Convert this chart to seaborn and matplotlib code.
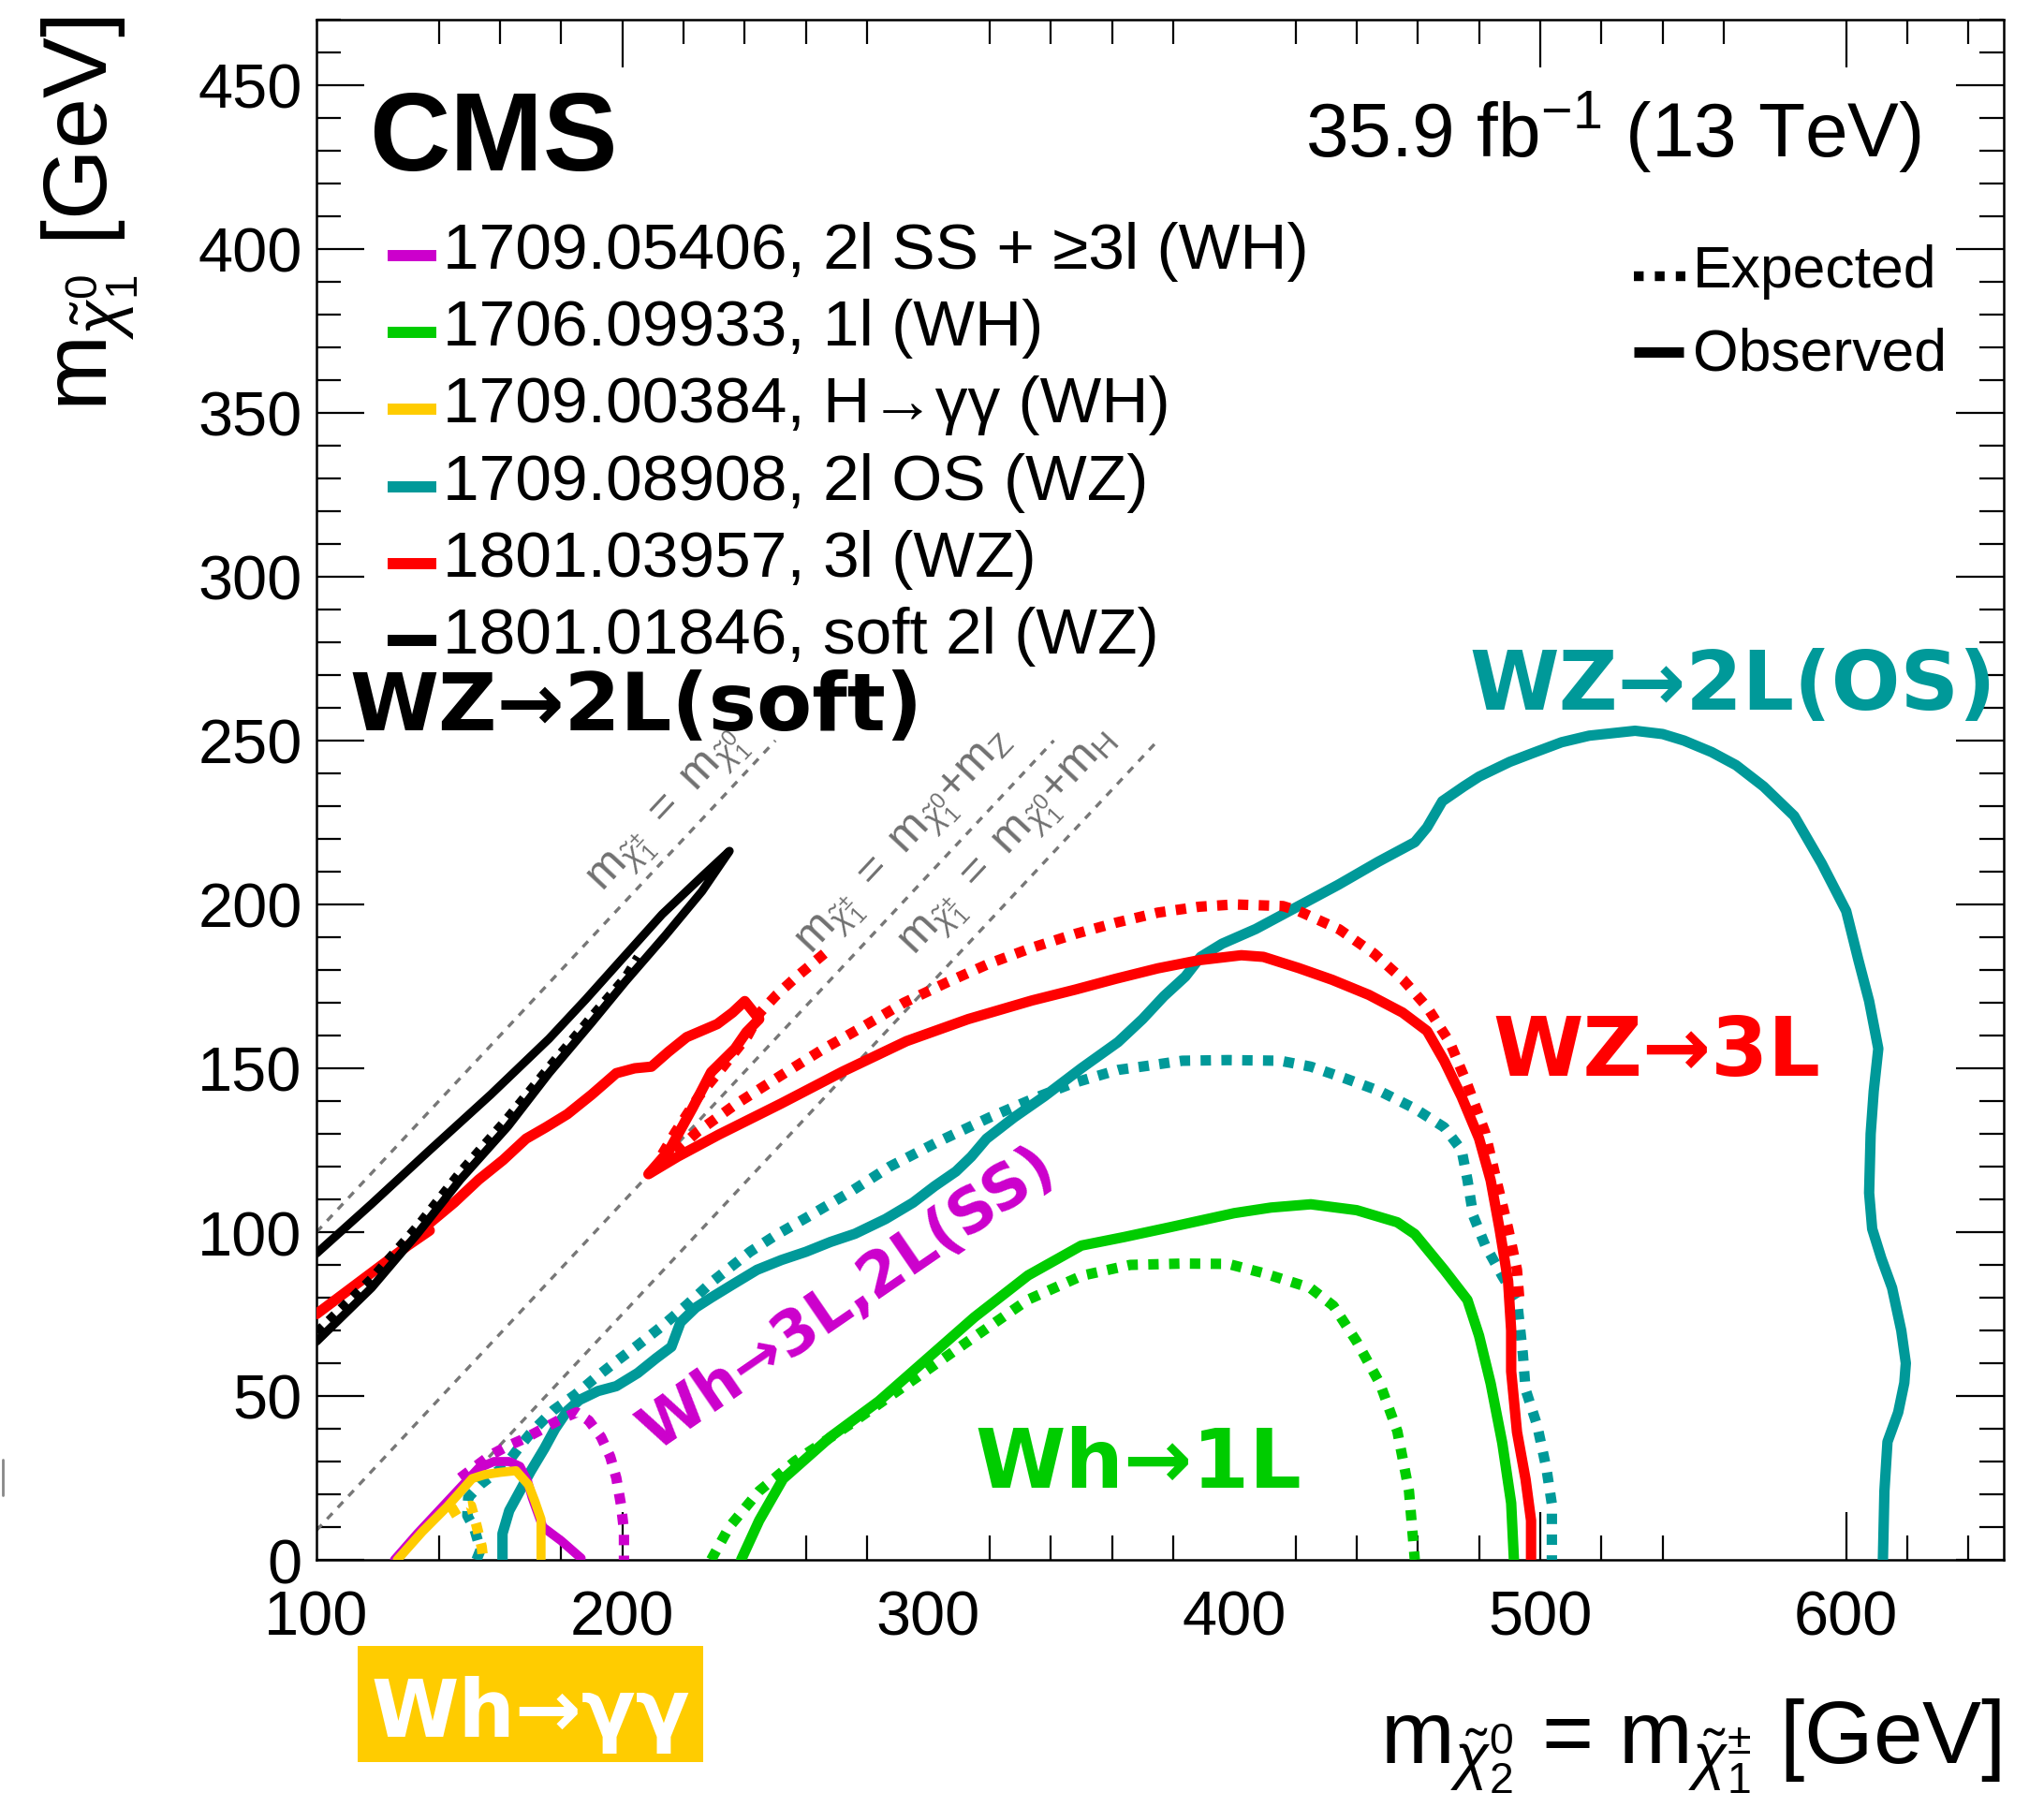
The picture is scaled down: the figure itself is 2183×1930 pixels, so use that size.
import numpy as np
import pandas as pd
import matplotlib
matplotlib.use("Agg")
import matplotlib.pyplot as plt
import seaborn as sns
from matplotlib.lines import Line2D
from matplotlib.patches import Rectangle

# ---------------- data (GeV) ----------------
teal_obs_x = [160.8,160.8,163,166.5,170,174.5,178,182,186,192,198,205,211,216,219,224,229,236,244,252,260,268,276,286,295,302,309,314,319,328,338,350,362,370,377,384,389,396,407,421,434,447,459,463,468,475,480,490,497,507,516,531,540,547,556,564,573,583,592,600,604,607.5,610.5,609,608,607.5,608.5,611.5,615,618,619.5,619,617,613.5,612.5,612]
teal_obs_y = [0,8,15,21,27,34,40,45.5,48.8,51.5,53,57,61.5,65,72.5,77,80,84,88.5,91.5,94,97,99.5,104,109,114,118.5,123,128.5,135,141.5,150,158,165,172,178,184,188,192.5,199.5,206,213,219,223.5,231.5,236,239,243.5,246,249.5,251.5,253,252,250,246.5,242.5,236,227,212.5,198,183,170.5,156,143,130,112,101,92,83,70,60,54,45,36,21,0]

teal_exp_x = [152.3,153.6,151.6,149.3,149.6,153.6,158.7,161.8,166.2,170.3,177.5,184.6,190.7,197.9,205,213.2,221.3,229.5,241.7,250,260.3,274,287.4,303,320,335,347.4,362,372,383,398,415,425,436,447.6,459,468.6,474.3,476.2,478.1,482,487.6,492.4,494.3,495.2,499,502,503.8,503.8]
teal_exp_y = [0,3,9.5,13.5,19,23,26.7,28.8,34.3,39,45.7,50.4,55.2,60.5,65.5,71.5,78,85,94,99,104.5,112,120,127.5,135,141,145.5,149.5,150.8,152.3,152.5,152.3,150.5,147,143,137.7,132,125,116,105,96,86.6,79.3,63,52,41,28,17,0]

red_obs_x = [100,110,120,130,137,136,145,153,161,168.5,175,182,190,198,204,209.5,215,221,231,236,240,244.7,240.5,236.8,229,223,215.3,208.5,218,231.4,251.8,272,292.9,313,333.9,348,361.2,375,388.6,402.3,409.5,421,432,444,455,463,468.6,474.3,480,483.8,486.7,489.5,490.5,490.5,492.4,495.2,497,497]
red_obs_y = [75,82,89,96,100.5,102,109,116,122,128.5,132,136,142,148.5,150,150.5,155,159.5,163.5,167,170.5,165,161,156,148.8,138,125,117.7,123,129.7,139.2,149,158.3,165,170.7,174,177.3,180.5,183,184.5,184,180.6,177,172.4,167,161.4,152.3,141.3,128.6,115.8,101,85,70,57.5,39,24.6,12,0]

red_exp_x = [266,257,250.5,245,241,233,225,217.3,211.5,213,224.5,237,251.8,265,279.2,292,306.5,320,333.9,348,361.2,375,388.5,400,415.9,421,434.3,445.7,455.2,463,470.5,476.2,482,485.7,489.5,492.4,493.3]
red_exp_y = [185,178,172.5,167,160,150.6,141.5,130.5,121.4,121,130.6,139,147.8,155.5,163,170,176.4,182,186.8,191,194.4,197.5,199.3,200,199.5,198,192.4,185,177,168.7,157.8,145,130.4,115.8,101.2,88.5,78]

green_obs_x = [238.8,244.7,252.5,268,283.8,299.4,315,332.6,350,364,379,400,412,425,440,453.3,459,468.6,476.2,480,483.8,487.6,490.5,491.4]
green_obs_y = [0,12,24.7,37.5,48.4,61.2,74,86.8,95.9,98.5,101.5,105.8,107.5,108.5,106.7,103,99.4,88.5,79.3,68.4,53.8,35.6,17.3,0]

green_exp_x = [229,234.9,244.7,256.4,274,293.5,313,332.6,350.2,366,383,398,409.5,424.8,432.4,440,447.6,453.3,457.1,459]
green_exp_y = [0,10,21,30.1,41.1,53.9,66.7,79.4,86.7,90,90.4,90.3,87.5,83,77.5,66.6,53.8,39.2,21,0]

magenta_obs_x = [125.5,133,141,148,153,158,163,166.5,169,170.5,174,180,186.5]
magenta_obs_y = [0,8,16,23,28,30,30,28.5,24,19,10,5.8,0.5]

magenta_exp_x = [147,152,157,162,168,174,180,185,189,193,196,198,199.5,200.5,200.5]
magenta_exp_y = [25,28.5,32,34.5,37,40,43,45,42.5,37.5,31.5,25,17,9,0]

orange_obs_x = [126.4,134.6,142.7,150.9,155,160.1,165.2,169.3,171.3,173.4,173.4]
orange_obs_y = [0,8.6,16.2,24.8,26,26.7,27.2,22.9,18.1,12.4,0]

orange_exp_x = [143.5,147,150.5,152.3,154,154.5]
orange_exp_y = [14,16,16.5,10.5,4,0]

black_obs_x = [100,118,133,147,162.6,176,190,201,214,226,235,226,213,200,188,176,157,137,118,100]
black_obs_y = [66.6,83,99.5,116,132.3,148.5,164,176.5,190.5,204,216.3,208.5,197,183.5,171,159,142,125,108.6,93.5]

black_exp_x = [100,118,133,147,162,176,190,201,205]
black_exp_y = [69.5,86,102,118.5,134.5,150.5,166,178,184]

m_Z = 91.0
m_H = 125.0
diag_x = [100, 250]
diagZ_x = [100, 341]
diagH_x = [125, 375]

legend_labels = ["1709.05406, 2l SS + \u22653l (WH)",
                 "1706.09933, 1l (WH)",
                 "1709.00384, H\u2192\u03b3\u03b3 (WH)",
                 "1709.08908, 2l OS (WZ)",
                 "1801.03957, 3l (WZ)",
                 "1801.01846, soft 2l (WZ)"]
x_major = [100, 200, 300, 400, 500, 600]
x_long = [200, 500, 600]
x_minor_bottom = [140,160,180,260,280,320,340,360,380,420,440,460,480,520,540,620,640]
x_minor_top = [140,160,180,220,240,260,280,320,340,360,380,420,440,460,480,520,540,560,620,640]

# ---------------- style ----------------
C_MAG, C_GRN, C_ORG, C_TEAL, C_RED, C_BLK = "#CC00CC", "#00CC00", "#FFCC00", "#009999", "#FF0000", "#000000"
sns.set_theme(style="white")
plt.rcParams["font.family"] = ["Liberation Sans", "DejaVu Sans"]
plt.rcParams["mathtext.fontset"] = "custom"
plt.rcParams["mathtext.rm"] = "Liberation Sans"
plt.rcParams["mathtext.it"] = "Liberation Sans:italic"
plt.rcParams["mathtext.bf"] = "Liberation Sans:bold"

W, H = 2183, 1931
fig = plt.figure(figsize=(W / 100, H / 100), dpi=100)
fig.patch.set_facecolor("white")
AX_L, AX_R, AX_T, AX_B = 338, 2140, 22, 1667
ax = fig.add_axes([AX_L / W, 1 - AX_B / H, (AX_R - AX_L) / W, (AX_B - AX_T) / H])
XMAX, YMAX = 651.5, 470
ax.set_xlim(100, XMAX)
ax.set_ylim(0, YMAX)

def F(px, py):
    return (px / W, 1 - py / H)

def draw(xs, ys, color, ls="-", lw=8.0, z=3):
    df = pd.DataFrame({"x": xs, "y": ys})
    sns.lineplot(data=df, x="x", y="y", sort=False, estimator=None, errorbar=None,
                 color=color, linestyle=ls, linewidth=lw, ax=ax, zorder=z, legend=False)

DOT = (0, (1, 1.0))
DASH = (0, (2.5, 2.5))
GREY = "#777777"

# diagonal reference lines
draw(diag_x, [x for x in diag_x], GREY, DASH, 2.4, 1)
draw(diagZ_x, [x - m_Z for x in diagZ_x], GREY, DASH, 2.4, 1)
draw(diagH_x, [x - m_H for x in diagH_x], GREY, DASH, 2.4, 1)

draw(teal_exp_x, teal_exp_y, C_TEAL, DOT, 8.0, 3)
draw(teal_obs_x, teal_obs_y, C_TEAL, "-", 8.0, 3)
draw(green_exp_x, green_exp_y, C_GRN, DOT, 8.0, 3)
draw(green_obs_x, green_obs_y, C_GRN, "-", 8.0, 3)
draw(magenta_exp_x, magenta_exp_y, C_MAG, DOT, 8.0, 3)
draw(magenta_obs_x, magenta_obs_y, C_MAG, "-", 7.0, 3)
draw(orange_exp_x, orange_exp_y, C_ORG, DOT, 8.0, 4)
draw(orange_obs_x, orange_obs_y, C_ORG, "-", 7.0, 4)
draw(red_exp_x, red_exp_y, C_RED, DOT, 8.0, 4)
draw(red_obs_x, red_obs_y, C_RED, "-", 8.0, 4)
draw(black_exp_x, black_exp_y, C_BLK, DOT, 6.5, 5)
draw(black_obs_x, black_obs_y, C_BLK, "-", 6.5, 5)

ax.set_xlabel("")
ax.set_ylabel("")

# rotated labels on reference lines
ax_w_px, ax_h_px = AX_R - AX_L, AX_B - AX_T
ang = np.degrees(np.arctan2(ax_h_px / YMAX, ax_w_px / (XMAX - 100)))
lab_kw = dict(rotation=ang, rotation_mode="anchor", ha="center", va="center", fontsize=35, color="#707070", zorder=2)
ax.text(215.5, 228, r"$\mathrm{m}_{\tilde{\chi}^{\pm}_{1}}\mathrm{\ =\ m}_{\tilde{\chi}^{0}_{1}}$", **lab_kw)
ax.text(293.0, 218.5, r"$\mathrm{m}_{\tilde{\chi}^{\pm}_{1}}\mathrm{\ =\ m}_{\tilde{\chi}^{0}_{1}}\mathrm{+m}_{\mathrm{Z}}$", **lab_kw)
ax.text(327.0, 218.5, r"$\mathrm{m}_{\tilde{\chi}^{\pm}_{1}}\mathrm{\ =\ m}_{\tilde{\chi}^{0}_{1}}\mathrm{+m}_{\mathrm{H}}$", **lab_kw)

# ---------------- axes / ticks ----------------
for s in ax.spines.values():
    s.set_color("black")
    s.set_linewidth(1.8)
MAJ, MIN, TW = 36.7, 18.7, 1.6
ax.set_xticks(x_major)
ax.set_xticks(x_minor_bottom, minor=True)
ax.set_yticks(list(range(0, 451, 50)))
ax.set_yticks(list(range(0, 471, 10)), minor=True)
ax.tick_params(axis="x", which="major", direction="in", length=0, pad=23, labelsize=48,
               bottom=True, top=False, labelcolor="black")
ax.tick_params(axis="x", which="minor", direction="in", length=MIN, width=TW, bottom=True, top=False, color="black")
ax.tick_params(axis="y", which="major", direction="in", length=MAJ, width=TW, pad=11, labelsize=48,
               left=True, right=False, color="black", labelcolor="black")
ax.tick_params(axis="y", which="minor", direction="in", length=MIN, width=TW, left=True, right=False, color="black")

secb = ax.secondary_xaxis("bottom")
secb.set_xticks(x_long, labels=["" for _ in x_long])
secb.tick_params(axis="x", which="major", direction="in", length=MAJ, width=TW, color="black", bottom=True)
secb.spines["bottom"].set_visible(False)

sect = ax.secondary_xaxis("top")
sect.set_xticks(x_long, labels=["" for _ in x_long])
sect.set_xticks(x_minor_top, minor=True)
sect.tick_params(axis="x", which="major", direction="in", length=MAJ, width=TW, color="black", top=True)
sect.tick_params(axis="x", which="minor", direction="in", length=MIN, width=TW, color="black", top=True)
sect.spines["top"].set_visible(False)

secr = ax.secondary_yaxis("right")
secr.set_yticks(list(range(0, 451, 50)), labels=["" for _ in range(0, 451, 50)])
secr.set_yticks(list(range(0, 471, 10)), minor=True)
secr.tick_params(axis="y", which="major", direction="in", length=MAJ, width=TW, color="black", right=True)
secr.tick_params(axis="y", which="minor", direction="in", length=MIN, width=TW, color="black", right=True)
secr.spines["right"].set_visible(False)

# axis titles
fig.text(*F(115, 18), r"$\mathrm{m}_{\tilde{\chi}^{0}_{1}}$ [GeV]", rotation=90, rotation_mode="anchor",
         ha="right", va="baseline", fontsize=70, color="black")
fig.text(*F(2137, 1884), r"$\mathrm{m}_{\tilde{\chi}^{0}_{2}}$ = $\mathrm{m}_{\tilde{\chi}^{\pm}_{1}}$ [GeV]",
         ha="right", va="baseline", fontsize=68, color="black")

# CMS + lumi
fig.text(*F(394, 182), "CMS", fontsize=86, fontweight="bold", ha="left", va="baseline", color="black")
fig.text(*F(2052, 168), r"35.9 fb$^{-1}$ (13 TeV)", fontsize=59, ha="right", va="baseline", color="black")

# legend (analyses)
leg_colors = [C_MAG, C_GRN, C_ORG, C_TEAL, C_RED, C_BLK]
leg_y = [274, 356, 438, 521, 603, 685]
for lab, col, yy in zip(legend_labels, leg_colors, leg_y):
    fig.add_artist(Line2D([414 / W, 466 / W], [1 - yy / H] * 2, transform=fig.transFigure,
                          color=col, lw=8.6, solid_capstyle="butt"))
    fig.text(*F(473, yy - 5), lab, fontsize=50, ha="left", va="center", color="black")

# expected / observed legend
fig.add_artist(Line2D([1745 / W, 1800 / W], [1 - 296 / H] * 2, transform=fig.transFigure,
                      color="black", lw=7.5, linestyle=(0, (1, 1.15)), dash_capstyle="butt"))
fig.add_artist(Line2D([1745 / W, 1798 / W], [1 - 377 / H] * 2, transform=fig.transFigure,
                      color="black", lw=8, solid_capstyle="butt"))
fig.text(*F(1808, 291), "Expected", fontsize=45, ha="left", va="center", color="black")
fig.text(*F(1808, 379), "Observed", fontsize=45, ha="left", va="center", color="black")

# process annotations
bold = dict(family=["DejaVu Sans"], fontweight="bold", ha="left", va="baseline")
fig.text(*F(373, 780), "WZ\u21922L(soft)", fontsize=62, color=C_BLK, **bold)
fig.text(*F(1569, 758), "WZ\u21922L(OS)", fontsize=62.5, color=C_TEAL, **bold)
fig.text(*F(1594, 1149), "WZ\u21923L", fontsize=63, color=C_RED, **bold)
fig.text(*F(1041, 1589), "Wh\u21921L", fontsize=63, color=C_GRN, **bold)
fig.text(*F(700, 1551), "Wh\u21923L,2L(SS)", fontsize=47, color=C_MAG, rotation=34.5,
         rotation_mode="anchor", **bold)

# Wh->gamma gamma boxed label
fig.add_artist(Rectangle(F(382, 1883), 369 / W, 124 / H, transform=fig.transFigure,
                         facecolor=C_ORG, edgecolor="none"))
fig.text(*F(396, 1855), "Wh\u2192\u03b3\u03b3", fontsize=61, color="white", **bold)

# small stray mark at the left edge
fig.add_artist(Line2D([3 / W, 3 / W], [1 - 1560 / H, 1 - 1598 / H], transform=fig.transFigure,
                      color="#888888", lw=2))

fig.savefig("out.png", dpi=100, facecolor="white")
